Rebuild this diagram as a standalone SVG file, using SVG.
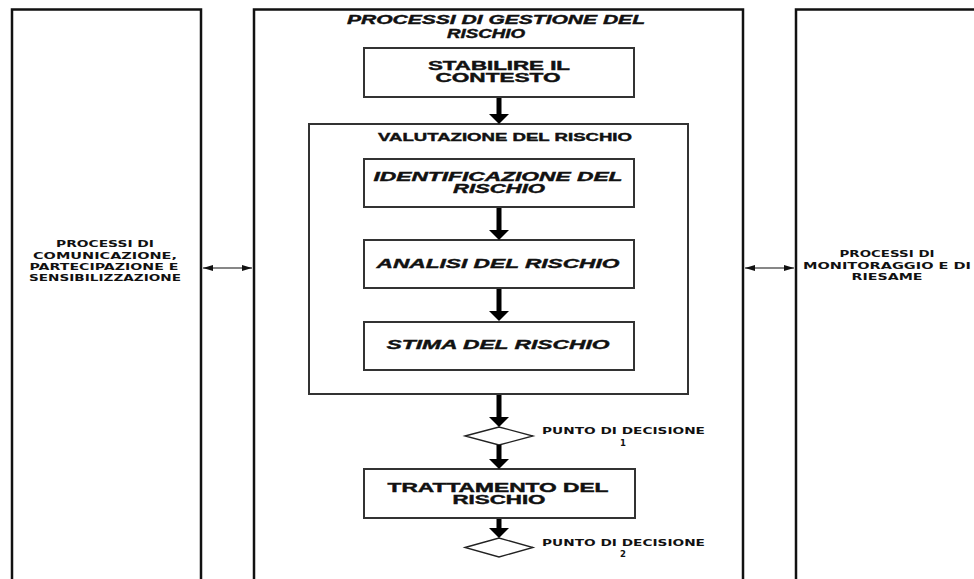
<svg xmlns="http://www.w3.org/2000/svg" width="974" height="579" viewBox="0 0 974 579">
<style>
.col{fill:#fff;stroke:#111;stroke-width:2.5}
.box{fill:#fff;stroke:#333;stroke-width:2}
.dia{fill:#fff;stroke:#222;stroke-width:1.3}
.side{font-family:"DejaVu Sans",Verdana,sans-serif;font-weight:bold;font-size:9.5px;fill:#111;text-anchor:middle}
.blk{font-family:"Liberation Sans",Arial,sans-serif;font-weight:bold;fill:#111;stroke:#111;stroke-width:0.4;text-anchor:middle}
.it{font-style:italic}
.pt{font-family:"DejaVu Sans",Verdana,sans-serif;font-weight:bold;font-size:8.5px;fill:#111}
.big{stroke:#000;stroke-width:5;fill:none}
.sm{stroke:#111;stroke-width:1.2;fill:none}
</style>
<defs>
<marker id="bh" viewBox="0 0 10 20" markerWidth="10" markerHeight="20" refX="0" refY="10" orient="auto" markerUnits="userSpaceOnUse"><path d="M0,0 L10,10 L0,20 z" fill="#000"/></marker>
<marker id="sh" viewBox="0 0 10 6" markerWidth="10" markerHeight="6" refX="10" refY="3" orient="auto-start-reverse" markerUnits="userSpaceOnUse"><path d="M0,0 L10,3 L0,6 z" fill="#111"/></marker>
</defs>
<rect width="974" height="579" fill="#fff"/>

<g id="comunicazione">
<rect class="col" x="12" y="9.5" width="189" height="600"/>
<text class="side" x="105" y="246.5" textLength="98" lengthAdjust="spacingAndGlyphs">PROCESSI DI</text>
<text class="side" x="105" y="258.5" textLength="144" lengthAdjust="spacingAndGlyphs">COMUNICAZIONE,</text>
<text class="side" x="104" y="269.5" textLength="149" lengthAdjust="spacingAndGlyphs">PARTECIPAZIONE E</text>
<text class="side" x="105" y="280.5" textLength="152" lengthAdjust="spacingAndGlyphs">SENSIBILIZZAZIONE</text>
</g>

<g id="gestione">
<rect class="col" x="254" y="9.5" width="489" height="600"/>
<text class="blk it" x="496" y="24" font-size="12" textLength="298" lengthAdjust="spacingAndGlyphs">PROCESSI DI GESTIONE DEL</text>
<text class="blk it" x="486" y="37.5" font-size="12" textLength="78" lengthAdjust="spacingAndGlyphs">RISCHIO</text>
</g>

<g id="monitoraggio">
<rect class="col" x="796" y="9.5" width="200" height="600"/>
<text class="side" x="887" y="256.5" textLength="95" lengthAdjust="spacingAndGlyphs">PROCESSI DI</text>
<text class="side" x="887" y="268.5" textLength="168" lengthAdjust="spacingAndGlyphs">MONITORAGGIO E DI</text>
<text class="side" x="887" y="279.5" textLength="71" lengthAdjust="spacingAndGlyphs">RIESAME</text>
</g>

<g id="contesto">
<rect class="box" x="364" y="48" width="270" height="49"/>
<text class="blk" x="499" y="69.5" font-size="12" textLength="142" lengthAdjust="spacingAndGlyphs">STABILIRE IL</text>
<text class="blk" x="498" y="82" font-size="12" textLength="125" lengthAdjust="spacingAndGlyphs">CONTESTO</text>
</g>

<g id="valutazione">
<rect class="box" x="309" y="124" width="379" height="270"/>
<text class="blk" x="505" y="141" font-size="11" textLength="254" lengthAdjust="spacingAndGlyphs">VALUTAZIONE DEL RISCHIO</text>
</g>

<g id="identificazione">
<rect class="box" x="364" y="159" width="270" height="48"/>
<text class="blk it" x="498" y="180.5" font-size="12" textLength="249" lengthAdjust="spacingAndGlyphs">IDENTIFICAZIONE DEL</text>
<text class="blk it" x="499" y="193" font-size="12" textLength="92" lengthAdjust="spacingAndGlyphs">RISCHIO</text>
</g>

<g id="analisi">
<rect class="box" x="364" y="240" width="270" height="48"/>
<text class="blk it" x="498" y="268" font-size="13" textLength="243" lengthAdjust="spacingAndGlyphs">ANALISI DEL RISCHIO</text>
</g>

<g id="stima">
<rect class="box" x="364" y="322" width="270" height="48"/>
<text class="blk it" x="498" y="349" font-size="13" textLength="223" lengthAdjust="spacingAndGlyphs">STIMA DEL RISCHIO</text>
</g>

<g id="decisione1">
<polygon class="dia" points="465,436 499,427 533,436 499,445"/>
<text class="pt" x="542" y="433.5" textLength="163" lengthAdjust="spacingAndGlyphs">PUNTO DI DECISIONE</text>
<text class="pt" x="623" y="446" text-anchor="middle">1</text>
</g>

<g id="trattamento">
<rect class="box" x="364" y="469" width="271" height="49"/>
<text class="blk" x="498" y="491.5" font-size="12" textLength="221" lengthAdjust="spacingAndGlyphs">TRATTAMENTO DEL</text>
<text class="blk" x="499" y="504" font-size="12" textLength="93" lengthAdjust="spacingAndGlyphs">RISCHIO</text>
</g>

<g id="decisione2">
<polygon class="dia" points="465,547.5 499,538 533,547.5 499,557"/>
<text class="pt" x="542" y="545.5" textLength="163" lengthAdjust="spacingAndGlyphs">PUNTO DI DECISIONE</text>
<text class="pt" x="623" y="557" text-anchor="middle">2</text>
</g>

<g id="connectors">
<line class="big" x1="499" y1="98" x2="499" y2="114" marker-end="url(#bh)"/>
<line class="big" x1="499" y1="208" x2="499" y2="230" marker-end="url(#bh)"/>
<line class="big" x1="499" y1="289" x2="499" y2="311" marker-end="url(#bh)"/>
<line class="big" x1="499" y1="395" x2="499" y2="417" marker-end="url(#bh)"/>
<line class="big" x1="499" y1="445" x2="499" y2="459" marker-end="url(#bh)"/>
<line class="big" x1="499" y1="519" x2="499" y2="528" marker-end="url(#bh)"/>
<line class="sm" x1="203" y1="268" x2="252" y2="268" marker-start="url(#sh)" marker-end="url(#sh)"/>
<line class="sm" x1="745" y1="268" x2="794" y2="268" marker-start="url(#sh)" marker-end="url(#sh)"/>
</g>
</svg>
